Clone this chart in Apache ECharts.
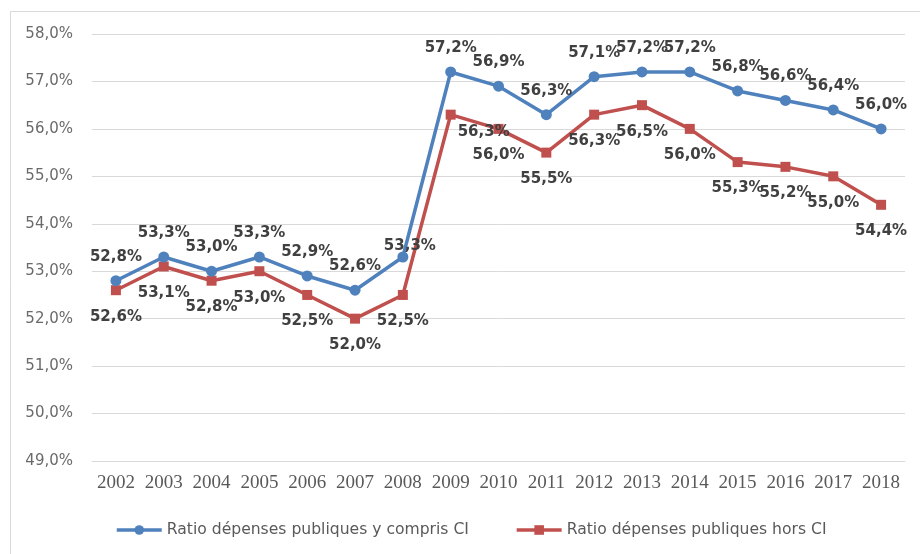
<!DOCTYPE html>
<html><head><meta charset="utf-8">
<script src="https://cdn.jsdelivr.net/npm/echarts@6/dist/echarts.min.js"></script>
<style>html,body{margin:0;padding:0;background:#fff}#c{width:920px;height:554px}</style>
</head><body><div id="c"></div>
<script>
const years = ['2002','2003','2004','2005','2006','2007','2008','2009','2010','2011','2012','2013','2014','2015','2016','2017','2018'];
const ratioAvecCI = [52.8,53.3,53.0,53.3,52.9,52.6,53.3,57.2,56.9,56.3,57.1,57.2,57.2,56.8,56.6,56.4,56.0];
const ratioHorsCI = [52.6,53.1,52.8,53.0,52.5,52.0,52.5,56.3,56.0,55.5,56.3,56.5,56.0,55.3,55.2,55.0,54.4];
const seriesNames = ['Ratio dépenses publiques y compris CI','Ratio dépenses publiques hors CI'];
const yMin = 49, yMax = 58, yStep = 1;

const fmt = v => v.toFixed(1).replace('.', ',') + '%';
// per-point label nudges (style only)
const blueNudge = {6: [7, 13]};
const redNudge = {7: [33, -9]};

function build(vals, nudge) {
  return vals.map((v, i) => {
    const item = {value: v};
    if (nudge[i]) item.label = {offset: nudge[i]};
    return item;
  });
}

const labelBase = {
  show: true, color: '#404040', fontWeight: 'bold', fontSize: 15,
  fontFamily: 'DejaVu Sans', formatter: p => fmt(p.value)
};

const chart = echarts.init(document.getElementById('c'), null, {renderer: 'canvas'});
chart.setOption({
  animation: false,
  backgroundColor: '#fff',
  graphic: [{type: 'rect', z: -1, shape: {x: 10.5, y: 11.5, width: 930, height: 560},
    style: {fill: null, stroke: '#D9D9D9', lineWidth: 1}}],
  grid: {left: 92, right: 15, top: 34, bottom: 93},
  legend: {
    left: 110, top: 517, itemWidth: 45, itemHeight: 12, itemGap: 46,
    lineStyle: {width: 3.5},
    textStyle: {color: '#595959', fontSize: 15.6, fontFamily: 'DejaVu Sans'},
    data: seriesNames
  },
  xAxis: {
    type: 'category', data: years, boundaryGap: true,
    axisLine: {lineStyle: {color: '#D9D9D9'}}, axisTick: {show: false},
    axisLabel: {color: '#595959', fontSize: 19, fontFamily: 'Liberation Serif', margin: 13, interval: 0}
  },
  yAxis: {
    type: 'value', min: yMin, max: yMax, interval: yStep,
    axisLine: {show: false}, axisTick: {show: false},
    splitLine: {lineStyle: {color: '#D9D9D9', width: 1}},
    axisLabel: {color: '#6A6A6A', fontSize: 15, fontFamily: 'DejaVu Sans', margin: 19,
      formatter: v => fmt(v)}
  },
  series: [
    {
      name: seriesNames[0], type: 'line', data: build(ratioAvecCI, blueNudge),
      color: '#4F81BD', symbol: 'circle', symbolSize: 11,
      lineStyle: {width: 3.5, color: '#4F81BD'}, itemStyle: {color: '#4F81BD'},
      label: Object.assign({}, labelBase, {position: 'top', distance: 11}), z: 3
    },
    {
      name: seriesNames[1], type: 'line', data: build(ratioHorsCI, redNudge),
      color: '#C0504D', symbol: 'rect', symbolSize: 10,
      lineStyle: {width: 3.5, color: '#C0504D'}, itemStyle: {color: '#C0504D'},
      label: Object.assign({}, labelBase, {position: 'bottom', distance: 14}), z: 2
    }
  ]
});
</script></body></html>
